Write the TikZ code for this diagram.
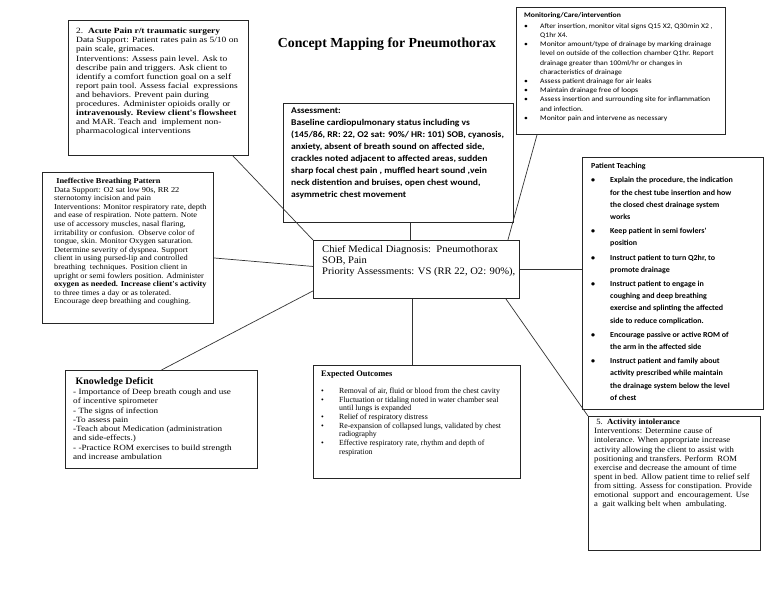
\documentclass[tikz,border=0pt]{standalone}
\usepackage{fontspec}
\setmainfont{Liberation Serif}
\newfontfamily\tsA[FakeStretch=1.18]{Liberation Serif}
\newfontfamily\tsB[FakeStretch=1.1]{Liberation Serif}
\newfontfamily\tsC[FakeStretch=1.06]{Liberation Serif}
\newfontfamily\tsD[FakeStretch=1.14]{Liberation Serif}
\newfontfamily\tsE[FakeStretch=1.08]{Liberation Serif}
\newfontfamily\csA[FakeStretch=1.1]{Carlito}
\newfontfamily\csB[FakeStretch=1.09]{Carlito}
\newfontfamily\csC[FakeStretch=1.04]{Carlito}
\usetikzlibrary{calc}
\newcommand{\itm}[2]{\makebox[#1][l]{\textbullet}#2}
\newcommand{\cnt}[2]{\hspace*{#1}#2}
\begin{document}
\begin{tikzpicture}[x=1pt,y=-1pt,
  box/.style={draw=black!85,line width=0.9pt,anchor=north west,inner sep=0pt},
  txt/.style={anchor=north west,inner sep=0pt,align=left},
  link/.style={draw=black!80,line width=0.7pt}]
\fill[white] (0,0) rectangle (768,594);
\useasboundingbox (0,0) rectangle (768,594);

% boxes
\node[box,minimum width=180pt,minimum height=135pt] (ap) at (68,20) {};
\node[box,minimum width=230pt,minimum height=119pt] (as) at (283,103) {};
\node[box,minimum width=209pt,minimum height=127pt] (mo) at (516,7) {};
\node[box,minimum width=171pt,minimum height=151pt] (ib) at (42,172) {};
\node[box,minimum width=206pt,minimum height=58pt] (cm) at (313,240) {};
\node[box,minimum width=181pt,minimum height=252pt] (pt) at (582,157) {};
\node[box,minimum width=192pt,minimum height=98pt] (kd) at (65,370) {};
\node[box,minimum width=207pt,minimum height=113pt] (eo) at (313,365) {};
\node[box,minimum width=172pt,minimum height=134pt] (ai) at (588,416) {};

% connectors
\draw[link] ([xshift=-16pt]ap.south east) -- (cm.north west);
\draw[link] ([xshift=12pt]as.south) -- ([xshift=12pt]as.south |- cm.north);
\draw[link] ([xshift=21pt]mo.south west) -- ([xshift=-12pt]cm.north east);
\draw[link] ([yshift=-10pt]ib.east) -- ([yshift=3pt]cm.west);
\draw[link] (kd.north) -- ([yshift=8pt]cm.south west);
\draw[link] (cm.east) -- (cm.east -| pt.west);
\draw[link] ([xshift=-4pt]cm.south) -- ([xshift=-4pt]cm.south |- eo.north);
\draw[link] ([xshift=-14pt]cm.south east) -- (ai.north west);

% title
\node[inner sep=0pt,font=\fontsize{13.8}{15}\selectfont\bfseries] (title) at (387,44) {Concept Mapping for Pneumothorax};

% acute pain
\node[txt,font=\tsA\fontsize{8}{9.1}\selectfont] (apt) at (76,28) {%
2.\ \ \textbf{Acute Pain r/t traumatic surgery}\\
Data Support: Patient rates pain as 5/10 on\\
pain scale, grimaces.\\
Interventions: Assess pain level. Ask to\\
describe pain and triggers. Ask client to\\
identify a comfort function goal on a self\\
report pain tool. Assess facial\ \ expressions\\
and behaviors. Prevent pain during\\
procedures. Administer opioids orally or\\
\textbf{intravenously. Review client's flowsheet}\\
and MAR. Teach and\ \ implement non-\\
pharmacological interventions};

% assessment
\node[txt,font=\csB\bfseries\fontsize{8.8}{12}\selectfont] (ast) at (291,108) {%
Assessment:\\
Baseline cardiopulmonary status including vs\\
(145/86, RR: 22, O2 sat: 90\%/ HR: 101) SOB, cyanosis,\\
anxiety, absent of breath sound on affected side,\\
crackles noted adjacent to affected areas, sudden\\
sharp focal chest pain , muffled heart sound ,vein\\
neck distention and bruises, open chest wound,\\
asymmetric chest movement};

% monitoring
\node[txt,font=\csA\fontsize{7}{9.2}\selectfont] (mot) at (524,12) {%
\textbf{Monitoring/Care/intervention}\\[2pt]
\itm{16pt}{After insertion, monitor vital signs Q15 X2, Q30min X2 ,}\\
\cnt{16pt}{Q1hr X4.}\\
\itm{16pt}{Monitor amount/type of drainage by marking drainage}\\
\cnt{16pt}{level on outside of the collection chamber Q1hr. Report}\\
\cnt{16pt}{drainage greater than 100ml/hr or changes in}\\
\cnt{16pt}{characteristics of drainage}\\
\itm{16pt}{Assess patient drainage for air leaks}\\
\itm{16pt}{Maintain drainage free of loops}\\
\itm{16pt}{Assess insertion and surrounding site for inflammation}\\
\cnt{16pt}{and infection.}\\
\itm{16pt}{Monitor pain and intervene as necessary}};

% ineffective breathing
\node[txt,font=\tsB\fontsize{7.6}{8.6}\selectfont] (ibt) at (54,178) {%
\ \textbf{Ineffective Breathing Pattern}\\
Data Support: O2 sat low 90s, RR 22\\
sternotomy incision and pain\\
Interventions: Monitor respiratory rate, depth\\
and ease of respiration. Note pattern. Note\\
use of accessory muscles, nasal flaring,\\
irritability or confusion.\ \ Observe color of\\
tongue, skin. Monitor Oxygen saturation.\\
Determine severity of dyspnea. Support\\
client in using pursed-lip and controlled\\
breathing\ \ techniques. Position client in\\
upright or semi fowlers position. Administer\\
\textbf{oxygen as needed. Increase client's activity}\\
to three times a day or as tolerated.\\
Encourage deep breathing and coughing.};

% center
\node[txt,font=\tsC\fontsize{10}{11}\selectfont] (cmt) at (322,245) {%
Chief Medical Diagnosis:\ \ Pneumothorax\\
SOB, Pain\\
Priority Assessments: VS (RR 22, O2: 90\%),};

% patient teaching
\node[txt,font=\csC\bfseries\fontsize{7.7}{12.2}\selectfont] (ptt) at (591,163) {%
Patient Teaching\\[2pt]
\itm{19pt}{Explain the procedure, the indication}\\
\cnt{19pt}{for the chest tube insertion and how}\\
\cnt{19pt}{the closed chest drainage system}\\
\cnt{19pt}{works}\\[2pt]
\itm{19pt}{Keep patient in semi fowlers'}\\
\cnt{19pt}{position}\\[2pt]
\itm{19pt}{Instruct patient to turn Q2hr, to}\\
\cnt{19pt}{promote drainage}\\[2pt]
\itm{19pt}{Instruct patient to engage in}\\
\cnt{19pt}{coughing and deep breathing}\\
\cnt{19pt}{exercise and splinting the affected}\\
\cnt{19pt}{side to reduce complication.}\\[2pt]
\itm{19pt}{Encourage passive or active ROM of}\\
\cnt{19pt}{the arm in the affected side}\\[2pt]
\itm{19pt}{Instruct patient and family about}\\
\cnt{19pt}{activity prescribed while maintain}\\
\cnt{19pt}{the drainage system below the level}\\
\cnt{19pt}{of chest}};

% knowledge deficit
\node[txt,font=\tsD\fontsize{8}{9.3}\selectfont] (kdt) at (73,377) {%
{\normalfont\fontsize{9.9}{10}\selectfont\bfseries\ Knowledge Deficit}\\[1pt]
- Importance of Deep breath cough and use\\
of incentive spirometer\\
- The signs of infection\\
-To assess pain\\
-Teach about Medication (administration\\
and side-effects.)\\
- -Practice ROM exercises to build strength\\
and increase ambulation};

% expected outcomes
\node[txt,font=\fontsize{7.8}{8.7}\selectfont] (eot) at (321,370) {%
{\fontsize{8.4}{8.7}\selectfont\bfseries Expected Outcomes}\\[8.7pt]
\itm{18pt}{Removal of air, fluid or blood from the chest cavity}\\
\itm{18pt}{Fluctuation or tidaling noted in water chamber seal}\\
\cnt{18pt}{until lungs is expanded}\\
\itm{18pt}{Relief of respiratory distress}\\
\itm{18pt}{Re-expansion of collapsed lungs, validated by chest}\\
\cnt{18pt}{radiography}\\
\itm{18pt}{Effective respiratory rate, rhythm and depth of}\\
\cnt{18pt}{respiration}};

% activity intolerance
\node[txt,font=\tsE\fontsize{8}{9.1}\selectfont] (ait) at (594,419) {%
\ 5.\ \ \textbf{Activity intolerance}\\
Interventions: Determine cause of\\
intolerance. When appropriate increase\\
activity allowing the client to assist with\\
positioning and transfers. Perform\ \ ROM\\
exercise and decrease the amount of time\\
spent in bed. Allow patient time to relief self\\
from sitting. Assess for constipation. Provide\\
emotional\ \ support and\ \ encouragement. Use\\
a\ \ gait walking belt when\ \ ambulating.};
\end{tikzpicture}
\end{document}
